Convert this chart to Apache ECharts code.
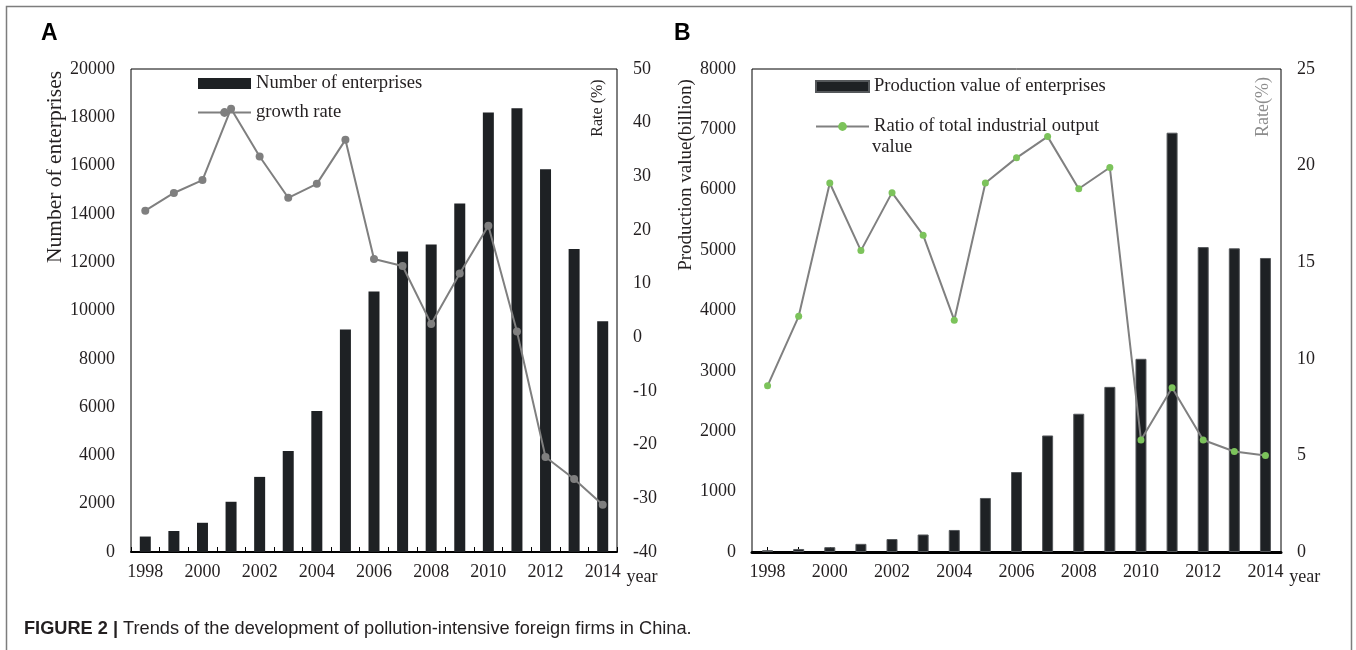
<!DOCTYPE html>
<html>
<head>
<meta charset="utf-8">
<script src="https://cdn.jsdelivr.net/npm/echarts@6/dist/echarts.min.js"></script>
<style>
html,body{margin:0;padding:0;background:#fff;}
#chart{width:1356px;height:650px;}
</style>
</head>
<body>
<div id="chart"></div>
<script>
// ---- data ----
const years = ['1998','1999','2000','2001','2002','2003','2004','2005','2006','2007','2008','2009','2010','2011','2012','2013','2014'];
const enterprises = [640, 870, 1210, 2080, 3110, 4180, 5840, 9210, 10790, 12440, 12730, 14430, 18200, 18370, 15850, 12550, 9560];
const growthRate = [23.6, 26.9, 29.3, 42.6, 33.7, 26.0, 28.6, 36.8, 14.6, 13.3, 2.5, 11.9, 20.8, 1.1, -22.3, -26.4, -31.2];
const productionValue = [30, 50, 80, 135, 215, 290, 365, 895, 1325, 1930, 2290, 2735, 3200, 6945, 5050, 5030, 4870];
const outputRatio = [8.6, 12.2, 19.1, 15.6, 18.6, 16.4, 12.0, 19.1, 20.4, 21.5, 18.8, 19.9, 5.8, 8.5, 5.8, 5.2, 5.0];
const leftTicksA = {min: 0, max: 20000, interval: 2000};
const rightTicksA = {min: -40, max: 50, interval: 10};
const leftTicksB = {min: 0, max: 8000, interval: 1000};
const rightTicksB = {min: 0, max: 25, interval: 5};

const SERIF = "'Liberation Serif','Times New Roman',serif";
const SANS = "'Liberation Sans',Arial,Helvetica,sans-serif";
const INK = '#231f20';
const fmt = v => String(v);

const chart = echarts.init(document.getElementById('chart'), null, {renderer: 'canvas'});

function xAxisCfg(gridIndex, lineWidth, alignTicks) {
  return {
    type: 'category', gridIndex: gridIndex, data: years,
    boundaryGap: true,
    name: 'year', nameLocation: 'end', nameGap: 8,
    nameTextStyle: {fontFamily: SERIF, fontSize: 18, color: INK, align: 'left', verticalAlign: 'top', padding: [16, 0, 0, 0]},
    axisLine: {show: true, lineStyle: {color: '#000', width: lineWidth}},
    axisTick: {show: true, inside: true, length: 5, interval: 0, alignWithLabel: alignTicks, lineStyle: {color: '#000', width: 1}},
    axisLabel: {interval: 1, margin: 11, fontFamily: SERIF, fontSize: 18, color: INK},
    splitLine: {show: false}
  };
}
function yAxisCfg(gridIndex, pos, ticks, name, nameGap, pad, fontSize, nameColor) {
  return {
    type: 'value', gridIndex: gridIndex, position: pos,
    min: ticks.min, max: ticks.max, interval: ticks.interval,
    name: name, nameLocation: 'middle', nameGap: nameGap, nameRotate: 90,
    nameTextStyle: {fontFamily: SERIF, fontSize: fontSize, color: nameColor, align: 'center', verticalAlign: 'middle', padding: [0, 0, 0, pad]},
    axisLine: {show: false}, axisTick: {show: false},
    axisLabel: {margin: 16, fontFamily: SERIF, fontSize: 18, color: INK, formatter: fmt},
    splitLine: {show: false}
  };
}

const option = {
  backgroundColor: '#fff',
  animation: false,
  grid: [
    {left: 131, top: 69, right: 739, bottom: 98, show: true, borderColor: '#000', borderWidth: 1, backgroundColor: 'transparent'},
    {left: 752, top: 69, right: 75, bottom: 98, show: true, borderColor: '#000', borderWidth: 1, backgroundColor: 'transparent'}
  ],
  xAxis: [xAxisCfg(0, 2, false), xAxisCfg(1, 3, true)],
  yAxis: [
    yAxisCfg(0, 'left', leftTicksA, 'Number of enterprises', 76, 287, 21.5, INK),
    yAxisCfg(0, 'right', rightTicksA, 'Rate (%)', -19.5, 405, 16, INK),
    yAxisCfg(1, 'left', leftTicksB, 'Production value(billion)', 65.5, 271, 19, INK),
    yAxisCfg(1, 'right', rightTicksB, 'Rate(%)', -18, 407, 18, '#8c8c8c')
  ],
  legend: [
    {
      left: 197, top: 74, orient: 'vertical', padding: 0, itemGap: 10,
      itemWidth: 53, itemHeight: 11, selectedMode: false,
      textStyle: {fontFamily: SERIF, fontSize: 18.6, color: INK},
      data: [{name: 'Number of enterprises', icon: 'rect'}, {name: 'growth rate'}]
    },
    {
      left: 815, top: 77, orient: 'vertical', padding: 0, itemGap: 21,
      itemWidth: 53, itemHeight: 11, selectedMode: false,
      textStyle: {fontFamily: SERIF, fontSize: 18.6, color: INK},
      formatter: n => n === 'Ratio of total industrial output value' ? 'Ratio of total industrial output' : n,
      data: [{name: 'Production value of enterprises', icon: 'rect'}, {name: 'Ratio of total industrial output value'}]
    }
  ],
  series: [
    {
      name: 'Number of enterprises', type: 'bar', xAxisIndex: 0, yAxisIndex: 0,
      data: enterprises, barWidth: 11,
      itemStyle: {color: '#1e2124'}
    },
    {
      name: 'growth rate', type: 'line', xAxisIndex: 0, yAxisIndex: 1,
      data: growthRate, symbol: 'circle', symbolSize: 8, z: 5,
      lineStyle: {color: '#7f7f7f', width: 2},
      itemStyle: {color: '#7f7f7f'}
    },
    {
      name: 'Production value of enterprises', type: 'bar', xAxisIndex: 1, yAxisIndex: 2,
      data: productionValue, barWidth: 11,
      itemStyle: {color: '#1e2124', borderColor: '#55585b', borderWidth: 1}
    },
    {
      name: 'Ratio of total industrial output value', type: 'line', xAxisIndex: 1, yAxisIndex: 3,
      data: outputRatio, symbol: 'circle', symbolSize: 7, z: 5,
      lineStyle: {color: '#808080', width: 2},
      itemStyle: {color: '#7cc35b'}
    }
  ],
  graphic: [
    {type: 'rect', silent: true, shape: {x: 6.5, y: 6.5, width: 1345, height: 700},
     style: {fill: 'none', stroke: '#7d7d7d', lineWidth: 1.5}},
    {type: 'text', left: 41, top: 22, style: {text: 'A', font: "bold 23px " + SANS, fill: '#000'}},
    {type: 'text', left: 674, top: 22, style: {text: 'B', font: "bold 23px " + SANS, fill: '#000'}},
    {type: 'text', left: 872, top: 138, style: {text: 'value', font: "18.6px " + SERIF, fill: INK}},
    {type: 'text', left: 24, top: 620,
     style: {
       text: '{b|FIGURE 2 |} Trends of the development of pollution-intensive foreign firms in China.',
       font: "18.2px " + SANS, fill: INK,
       rich: {b: {fontWeight: 'bold', fontFamily: SANS, fontSize: 18.2, fill: INK}}
     }}
  ]
};
chart.setOption(option);
</script>
</body>
</html>
